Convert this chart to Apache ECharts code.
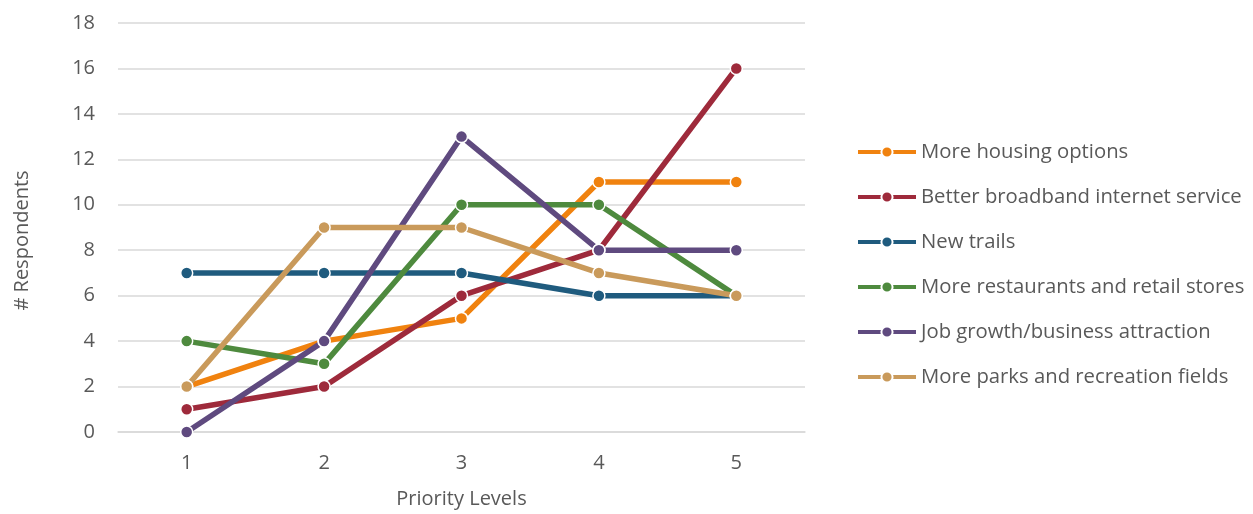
<!DOCTYPE html>
<html>
<head>
<meta charset="utf-8">
<script src="https://cdn.jsdelivr.net/npm/echarts@6/dist/echarts.min.js"></script>
<style>
  html, body { margin: 0; padding: 0; background: #fff; }
  #chart { width: 1253px; height: 514px; }
</style>
</head>
<body>
<div id="chart"></div>
<script>
// Priority levels on the x axis
const categories = ['1', '2', '3', '4', '5'];

// Respondent counts per priority level
const housing = [2, 4, 5, 11, 11];
const broadband = [1, 2, 6, 8, 16];
const trails = [7, 7, 7, 6, 6];
const restaurants = [4, 3, 10, 10, 6];
const jobs = [0, 4, 13, 8, 8];
const parks = [2, 9, 9, 7, 6];

const seriesNames = [
  'More housing options',
  'Better broadband internet service',
  'New trails',
  'More restaurants and retail stores',
  'Job growth/business attraction',
  'More parks and recreation fields'
];
const seriesData = [housing, broadband, trails, restaurants, jobs, parks];
const colors = ['#F0820F', '#9E2A3B', '#1F5B7E', '#4E8A3E', '#5F4A7F', '#C99A5B'];

const FONT = 'Open Sans';
const TEXT = '#595959';
const FS = 20;

const chart = echarts.init(document.getElementById('chart'), null, { renderer: 'canvas' });

chart.setOption({
  animation: false,
  backgroundColor: '#ffffff',
  color: colors,
  grid: { left: 118, right: 448, top: 23, bottom: 77, containLabel: false },
  legend: {
    orient: 'vertical',
    left: 856,
    top: 142,
    padding: 0,
    itemWidth: 58,
    itemHeight: 14,
    itemGap: 25,
    lineStyle: { width: 4 },
    textStyle: { color: TEXT, fontFamily: FONT, fontSize: 20.3 },
    data: seriesNames
  },
  xAxis: {
    type: 'category',
    data: categories,
    boundaryGap: true,
    name: 'Priority Levels',
    nameLocation: 'middle',
    nameGap: 57,
    nameTextStyle: { color: TEXT, fontFamily: FONT, fontSize: FS },
    axisLine: { show: true, lineStyle: { color: '#d9d9d9', width: 1.5 } },
    axisTick: { show: false },
    axisLabel: { color: TEXT, fontFamily: FONT, fontSize: FS, margin: 21 }
  },
  yAxis: {
    type: 'value',
    min: 0,
    max: 18,
    interval: 2,
    name: '# Respondents',
    nameLocation: 'middle',
    nameRotate: 90,
    nameGap: 86,
    nameTextStyle: { color: TEXT, fontFamily: FONT, fontSize: FS, padding: [0, 26, 0, 0] },
    axisLine: { show: false },
    axisTick: { show: false },
    axisLabel: { color: TEXT, fontFamily: FONT, fontSize: FS, margin: 23 },
    splitLine: { lineStyle: { color: '#d9d9d9', width: 1.5 } }
  },
  series: seriesNames.map((name, i) => ({
    name: name,
    type: 'line',
    data: seriesData[i],
    symbol: 'circle',
    symbolSize: 12,
    lineStyle: { width: 5.5, color: colors[i] },
    itemStyle: { color: colors[i], borderColor: '#ffffff', borderWidth: 1.5 },
    emphasis: { disabled: true }
  }))
});
</script>
</body>
</html>
